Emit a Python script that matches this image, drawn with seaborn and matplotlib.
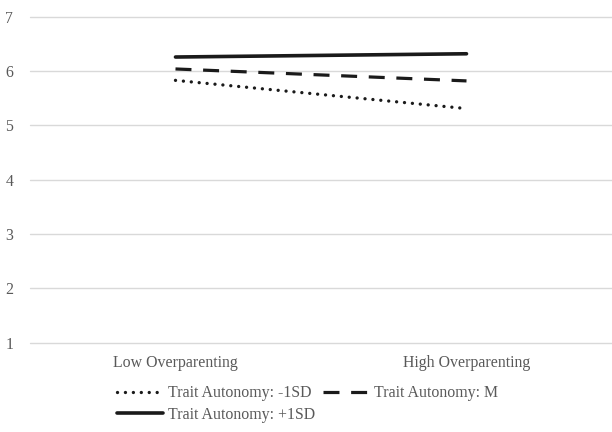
import seaborn as sns
import matplotlib.pyplot as plt
import pandas as pd

# datos
categorias = ["Low Overparenting", "High Overparenting"]
series = ["Trait Autonomy: -1SD", "Trait Autonomy: M", "Trait Autonomy: +1SD"]
menos_1sd = [5.83, 5.31]
media = [6.04, 5.82]
mas_1sd = [6.26, 6.32]
y_ticks = [1, 2, 3, 4, 5, 6, 7]

sns.set_theme(style="white")
plt.rcParams['font.family'] = ['Liberation Serif', 'DejaVu Serif']

df = pd.DataFrame({
    "x": categorias * 3,
    "y": menos_1sd + media + mas_1sd,
    "serie": [series[0]] * 2 + [series[1]] * 2 + [series[2]] * 2,
})

fig = plt.figure(figsize=(6.12, 4.32), dpi=100)
ax = fig.add_axes([0.049, 0.207, 0.951, 0.754])

ax = sns.lineplot(data=df, x="x", y="y", hue="serie", style="serie",
                  palette=["#1a1a1a"] * 3,
                  dashes={series[0]: (0.01, 2.37), series[1]: (5.0, 3.65), series[2]: ""},
                  linewidth=2.3, legend=False, ax=ax)
ax.lines[0].set_dash_capstyle("round")
ax.lines[0].set_linewidth(2.4)
ax.lines[2].set_linewidth(2.6)

ax.set_xlim(-0.5, 1.5)
ax.set_ylim(1, 7)
ax.set_yticks(y_ticks)
ax.yaxis.grid(True, color="#d9d9d9", linewidth=1)
for gl in ax.get_ygridlines():
    gl.set_clip_on(False)
for s in ax.spines.values():
    s.set_visible(False)
ax.tick_params(axis="both", length=0, colors="#595959", labelsize=11.4)
ax.tick_params(axis="x", pad=9)
ax.tick_params(axis="y", pad=12)
ax.set_xlabel("")
ax.set_ylabel("")

h = ax.lines
orden = [0, 2, 1]
leg = fig.legend([h[i] for i in orden], [series[i] for i in orden],
                 ncol=2, loc="upper left", bbox_to_anchor=(0.191, 0.108),
                 frameon=False, fontsize=11.4, labelcolor="#595959",
                 handlelength=2.9, handletextpad=0.35, columnspacing=0.45,
                 labelspacing=0.35, borderpad=0, borderaxespad=0)

plt.savefig("out.png", dpi=100)
